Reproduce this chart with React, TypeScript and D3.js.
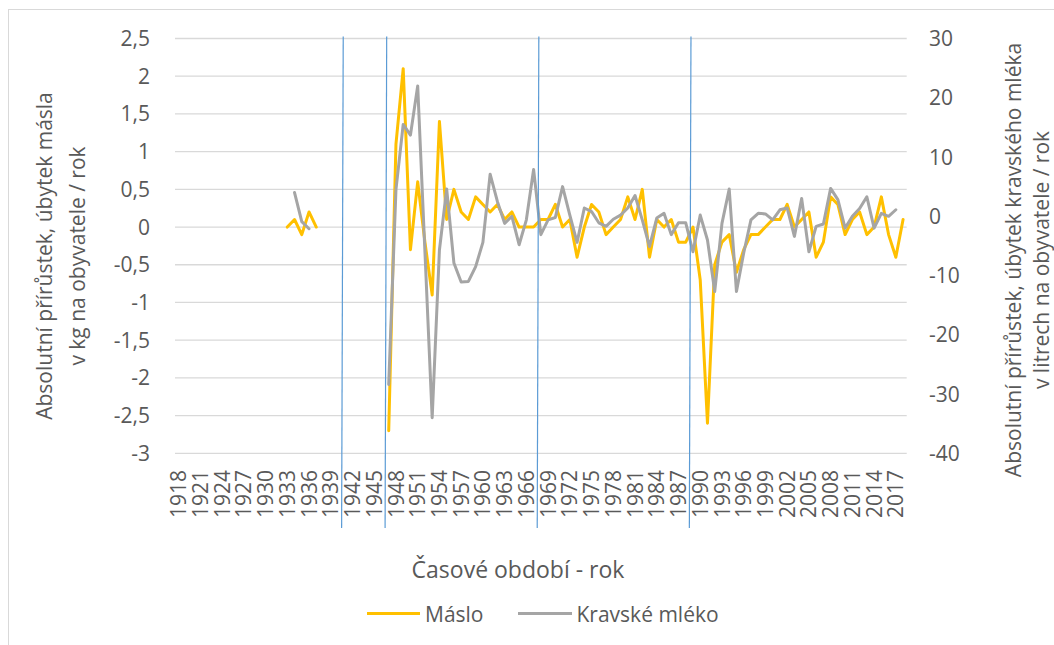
import React from "react";
import * as d3 from "d3";

const years: number[] = d3.range(1918, 2019);
const yearTicks: number[] = years.filter((y) => (y - 1918) % 3 === 0);

// Máslo (kg / obyvatele / rok), left axis
const masloYears = [
  1933, 1934, 1935, 1936, 1937,
  1947, 1948, 1949, 1950, 1951, 1952, 1953, 1954, 1955, 1956, 1957, 1958, 1959, 1960,
  1961, 1962, 1963, 1964, 1965, 1966, 1967, 1968, 1969, 1970, 1971, 1972, 1973, 1974,
  1975, 1976, 1977, 1978, 1979, 1980, 1981, 1982, 1983, 1984, 1985, 1986, 1987, 1988,
  1989, 1990, 1991, 1992, 1993, 1994, 1995, 1996, 1997, 1998, 1999, 2000, 2001, 2002,
  2003, 2004, 2005, 2006, 2007, 2008, 2009, 2010, 2011, 2012, 2013, 2014, 2015, 2016,
  2017, 2018,
];
const masloValues = [
  0, 0.1, -0.1, 0.2, 0,
  -2.7, 1.1, 2.1, -0.3, 0.6, -0.2, -0.9, 1.4, 0.1, 0.5, 0.2, 0.1, 0.4, 0.3,
  0.2, 0.3, 0.1, 0.2, 0, 0, 0, 0.1, 0.1, 0.3, 0, 0.1, -0.4, 0,
  0.3, 0.2, -0.1, 0, 0.1, 0.4, 0.1, 0.5, -0.4, 0.1, 0, 0.1, -0.2, -0.2,
  0, -0.7, -2.6, -0.5, -0.2, -0.1, -0.6, -0.3, -0.1, -0.1, 0, 0.1, 0.1, 0.3,
  0, 0.1, 0.2, -0.4, -0.2, 0.4, 0.3, -0.1, 0.1, 0.2, -0.1, 0, 0.4, -0.1,
  -0.4, 0.1,
];

// Kravské mléko (litry / obyvatele / rok), right axis
const mlekoYears = [
  1934, 1935, 1936,
  1947, 1948, 1949, 1950, 1951, 1952, 1953, 1954, 1955, 1956, 1957, 1958, 1959, 1960,
  1961, 1962, 1963, 1964, 1965, 1966, 1967, 1968, 1969, 1970, 1971, 1972, 1973, 1974,
  1975, 1976, 1977, 1978, 1979, 1980, 1981, 1982, 1983, 1984, 1985, 1986, 1987, 1988,
  1989, 1990, 1991, 1992, 1993, 1994, 1995, 1996, 1997, 1998, 1999, 2000, 2001, 2002,
  2003, 2004, 2005, 2006, 2007, 2008, 2009, 2010, 2011, 2012, 2013, 2014, 2015, 2016,
  2017,
];
const mlekoValues = [
  4, -0.9, -2.1,
  -28.4, 4.5, 15.5, 13.7, 22, -6, -34, -5.7, 4.6, -7.9, -11.1, -11, -8.5, -4.4,
  7.1, 2.5, -1.2, 0, -4.8, -0.6, 7.9, -3.1, -0.6, -0.2, 5, 0.2, -4.4, 1.4,
  0.8, -1.1, -1.7, -0.5, 0.2, 1.4, 3.5, -0.6, -5.1, -0.3, 0.5, -3.1, -1.1, -1.1,
  -6, 0.2, -4, -12.7, -1.2, 4.6, -12.7, -6.2, -0.6, 0.5, 0.4, -0.6, 1.1, 1.4,
  -3.4, 3.0, -6, -1.7, -1.3, 4.7, 2.8, -2, 0, 1.3, 3.3, -2, 0.5, 0,
  1.1,
];

const leftTicks = [2.5, 2, 1.5, 1, 0.5, 0, -0.5, -1, -1.5, -2, -2.5, -3];
const rightTicks = [30, 20, 10, 0, -10, -20, -30, -40];
const dividerYears = [1941, 1947, 1968, 1989];

const seriesNames = ["Máslo", "Kravské mléko"];
const seriesColors = ["#FFC000", "#A5A5A5"];

const leftTitle = ["Absolutní přírůstek, úbytek másla", "v kg na obyvatele / rok"];
const rightTitle = ["Absolutní přírůstek, úbytek kravského mléka", "v litrech na obyvatele / rok"];
const xTitle = "Časové období - rok";

const FONT = "'Open Sans', sans-serif";
const TXT = "#595959";

function fmt(v: number): string {
  return String(v).replace(".", ",");
}

function toSeries(ys: number[], vs: number[]): (number | null)[] {
  const m = new Map<number, number>();
  ys.forEach((y, i) => m.set(y, vs[i]));
  return years.map((y) => (m.has(y) ? (m.get(y) as number) : null));
}

export default function App() {
  const W = 1054;
  const H = 645;
  const plotL = 175;
  const plotR = 906.7;
  const plotT = 38.5;
  const plotB = 453.3;

  const x = d3.scaleBand<number>().domain(years).range([plotL, plotR]).padding(0);
  const cx = (y: number) => (x(y) as number) + x.bandwidth() / 2;
  const yL = d3.scaleLinear().domain([-3, 2.5]).range([plotB, plotT]);
  const yR = d3.scaleLinear().domain([-40, 30]).range([plotB, plotT]);

  const maslo = toSeries(masloYears, masloValues);
  const mleko = toSeries(mlekoYears, mlekoValues);

  const lineL = d3
    .line<number | null>()
    .defined((d) => d !== null)
    .x((_, i) => cx(years[i]))
    .y((d) => yL(d as number));
  const lineR = d3
    .line<number | null>()
    .defined((d) => d !== null)
    .x((_, i) => cx(years[i]))
    .y((d) => yR(d as number));

  const legendY = 613.5;
  const FS = 21;
  const TFS = 21;

  return (
    <svg
      width={W}
      height={H}
      style={{ position: "absolute", left: 0, top: 0, background: "#fff" }}
      fontFamily={FONT}
    >
      <rect x={8.5} y={9.5} width={W + 10} height={H + 10} fill="#fff" stroke="#D9D9D9" strokeWidth={1} />

      {/* gridlines */}
      {leftTicks.map((t) => (
        <line key={"g" + t} x1={plotL} x2={plotR} y1={yL(t)} y2={yL(t)} stroke="#D9D9D9" strokeWidth={1.3} />
      ))}

      {/* left tick labels */}
      {leftTicks.map((t) => (
        <text key={"l" + t} x={150} y={yL(t)} dy="0.36em" textAnchor="end" fontSize={FS} fill={TXT}>
          {fmt(t)}
        </text>
      ))}
      {/* right tick labels */}
      {rightTicks.map((t) => (
        <text key={"r" + t} x={929} y={yR(t)} dy="0.36em" textAnchor="start" fontSize={FS} fill={TXT}>
          {fmt(t)}
        </text>
      ))}

      {/* x tick labels */}
      {yearTicks.map((yr) => (
        <text
          key={"x" + yr}
          transform={`translate(${cx(yr)},470) rotate(-90)`}
          dy="0.36em"
          textAnchor="end"
          fontSize={FS}
          fill={TXT}
        >
          {yr}
        </text>
      ))}

      {/* series */}
      <path d={lineL(maslo) || ""} fill="none" stroke={seriesColors[0]} strokeWidth={3} strokeLinejoin="round" strokeLinecap="round" />
      <path d={lineR(mleko) || ""} fill="none" stroke={seriesColors[1]} strokeWidth={3} strokeLinejoin="round" strokeLinecap="round" />

      {/* dividers */}
      {dividerYears.map((yr) => {
        const bx = x(yr) as number;
        return <line key={"d" + yr} x1={bx + 1.6} y1={36.5} x2={bx} y2={528} stroke="#5B9BD5" strokeWidth={1.2} />;
      })}

      {/* axis titles */}
      {leftTitle.map((t, i) => (
        <text
          key={"lt" + i}
          transform={`translate(${44 + i * 33},256) rotate(-90)`}
          dy="0.36em"
          textAnchor="middle"
          fontSize={TFS}
          fill={TXT}
        >
          {t}
        </text>
      ))}
      {rightTitle.map((t, i) => (
        <text
          key={"rt" + i}
          transform={`translate(${1013 + i * 28},260) rotate(-90)`}
          dy="0.36em"
          textAnchor="middle"
          fontSize={TFS}
          fill={TXT}
        >
          {t}
        </text>
      ))}
      <text x={518} y={578} textAnchor="middle" fontSize={23} fill={TXT}>
        {xTitle}
      </text>

      {/* legend */}
      <line x1={367} x2={420} y1={legendY} y2={legendY} stroke={seriesColors[0]} strokeWidth={3} />
      <text x={425} y={621.5} fontSize={FS} fill={TXT}>
        {seriesNames[0]}
      </text>
      <line x1={518} x2={572} y1={legendY} y2={legendY} stroke={seriesColors[1]} strokeWidth={3} />
      <text x={576.5} y={621.5} fontSize={FS} fill={TXT}>
        {seriesNames[1]}
      </text>
    </svg>
  );
}
